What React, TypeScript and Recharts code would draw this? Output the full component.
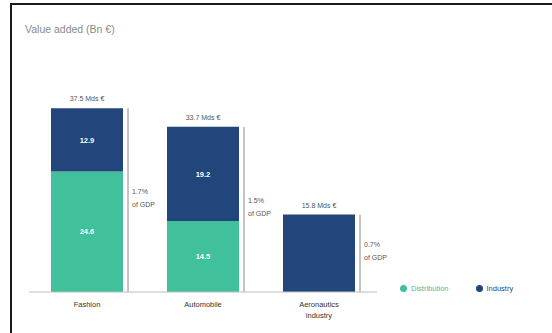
import React from 'react';
import { ComposedChart, Bar, XAxis, YAxis, LabelList, Legend } from 'recharts';

const categories = ['Fashion', 'Automobile', 'Aeronautics industry'];
const distribution = [24.6, 14.5, 0];
const industry = [12.9, 19.2, 15.8];
const distributionLabels = ['24.6', '14.5', ''];
const industryLabels = ['12.9', '19.2', ''];
const totals = [37.5, 33.7, 15.8];
const totalLabels = ['37.5 Mds €', '33.7 Mds €', '15.8 Mds €'];
const gdpShare = ['1.7%', '1.5%', '0.7%'];

const GREEN = '#40c09b';
const NAVY = '#22467b';
const FONT = '"Liberation Sans Narrow", "Arial Narrow", "Liberation Sans", sans-serif';

const data = categories.map((c, i) => ({
  name: c,
  distribution: distribution[i],
  industry: industry[i],
  total: totals[i],
  dLabel: distributionLabels[i],
  iLabel: industryLabels[i],
}));

const TotalShape = (props: any) => {
  const { x, y, width, height, index } = props;
  const lx = x + width + 5;
  const mid = y + height / 2;
  return (
    <g>
      <line x1={lx} x2={lx} y1={y} y2={y + height} stroke="#8a8a8a" strokeWidth={1} />
      <text x={x + width / 2} y={y - 7} textAnchor="middle" fontSize={7} fill="#555" fontFamily={FONT}>
        {totalLabels[index]}
      </text>
      <text x={lx + 4} y={mid - 6} fontSize={7} fill="#555" fontFamily={FONT}>
        {gdpShare[index]}
      </text>
      <text x={lx + 4} y={mid + 7} fontSize={7} fill="#555" fontFamily={FONT}>
        of GDP
      </text>
    </g>
  );
};

const CatTick = (props: any) => {
  const { x, y, payload } = props;
  const words = String(payload.value).split(' ');
  const lines = words.length > 1 ? [words[0], words.slice(1).join(' ')] : words;
  return (
    <g>
      {lines.map((l, i) => (
        <text key={i} x={x} y={y + 7 + i * 11} textAnchor="middle" fontSize={7.5} fill="#333" fontFamily={FONT}>
          {l}
        </text>
      ))}
    </g>
  );
};

const LegendContent = () => (
  <div style={{ display: 'flex', alignItems: 'center', fontFamily: FONT, fontSize: 7.5 }}>
    <span style={{ width: 7, height: 7, borderRadius: '50%', background: GREEN, display: 'inline-block', marginRight: 4 }} />
    <span style={{ color: GREEN, marginRight: 27 }}>Distribution</span>
    <span style={{ width: 7, height: 7, borderRadius: '50%', background: NAVY, display: 'inline-block', marginRight: 4 }} />
    <span style={{ color: NAVY }}>Industry</span>
  </div>
);

export default function App() {
  return (
    <div style={{ position: 'fixed', left: 0, top: 0, width: 552, height: 333, overflow: 'hidden', background: '#fff' }}>
      <div style={{ position: 'absolute', left: 10, top: 3, width: 620, height: 420, border: '2px solid #1a1a1a' }} />
      <div style={{ position: 'absolute', left: 25, top: 23, fontSize: 10.5, color: '#8a8a8a', fontFamily: FONT }}>
        Value added (Bn €)
      </div>
      <div style={{ position: 'absolute', left: 0, top: 0 }}>
        <ComposedChart width={552} height={333} data={data} margin={{ top: 96, right: 175, bottom: 11, left: 29 }}>
          <XAxis dataKey="name" xAxisId="a" height={30} tickLine={false} axisLine={{ stroke: '#bdbdbd' }} tick={<CatTick />} interval={0} />
          <XAxis dataKey="name" xAxisId="t" hide />
          <YAxis hide domain={[0, 40]} />
          <Bar dataKey="distribution" stackId="s" xAxisId="a" fill={GREEN} barSize={72} isAnimationActive={false}>
            <LabelList dataKey="dLabel" position="center" fill="#fff" fontSize={7.5} fontWeight="bold" fontFamily={FONT} />
          </Bar>
          <Bar dataKey="industry" stackId="s" xAxisId="a" fill={NAVY} barSize={72} isAnimationActive={false}>
            <LabelList dataKey="iLabel" position="center" fill="#fff" fontSize={7.5} fontWeight="bold" fontFamily={FONT} />
          </Bar>
          <Bar dataKey="total" xAxisId="t" barSize={72} fill="none" shape={<TotalShape />} isAnimationActive={false} legendType="none" />
          <Legend
            layout="horizontal"
            verticalAlign="middle"
            align="center"
            content={<LegendContent />}
            wrapperStyle={{ position: 'absolute', left: 400, top: 284, width: 150 }}
          />
        </ComposedChart>
      </div>
    </div>
  );
}
